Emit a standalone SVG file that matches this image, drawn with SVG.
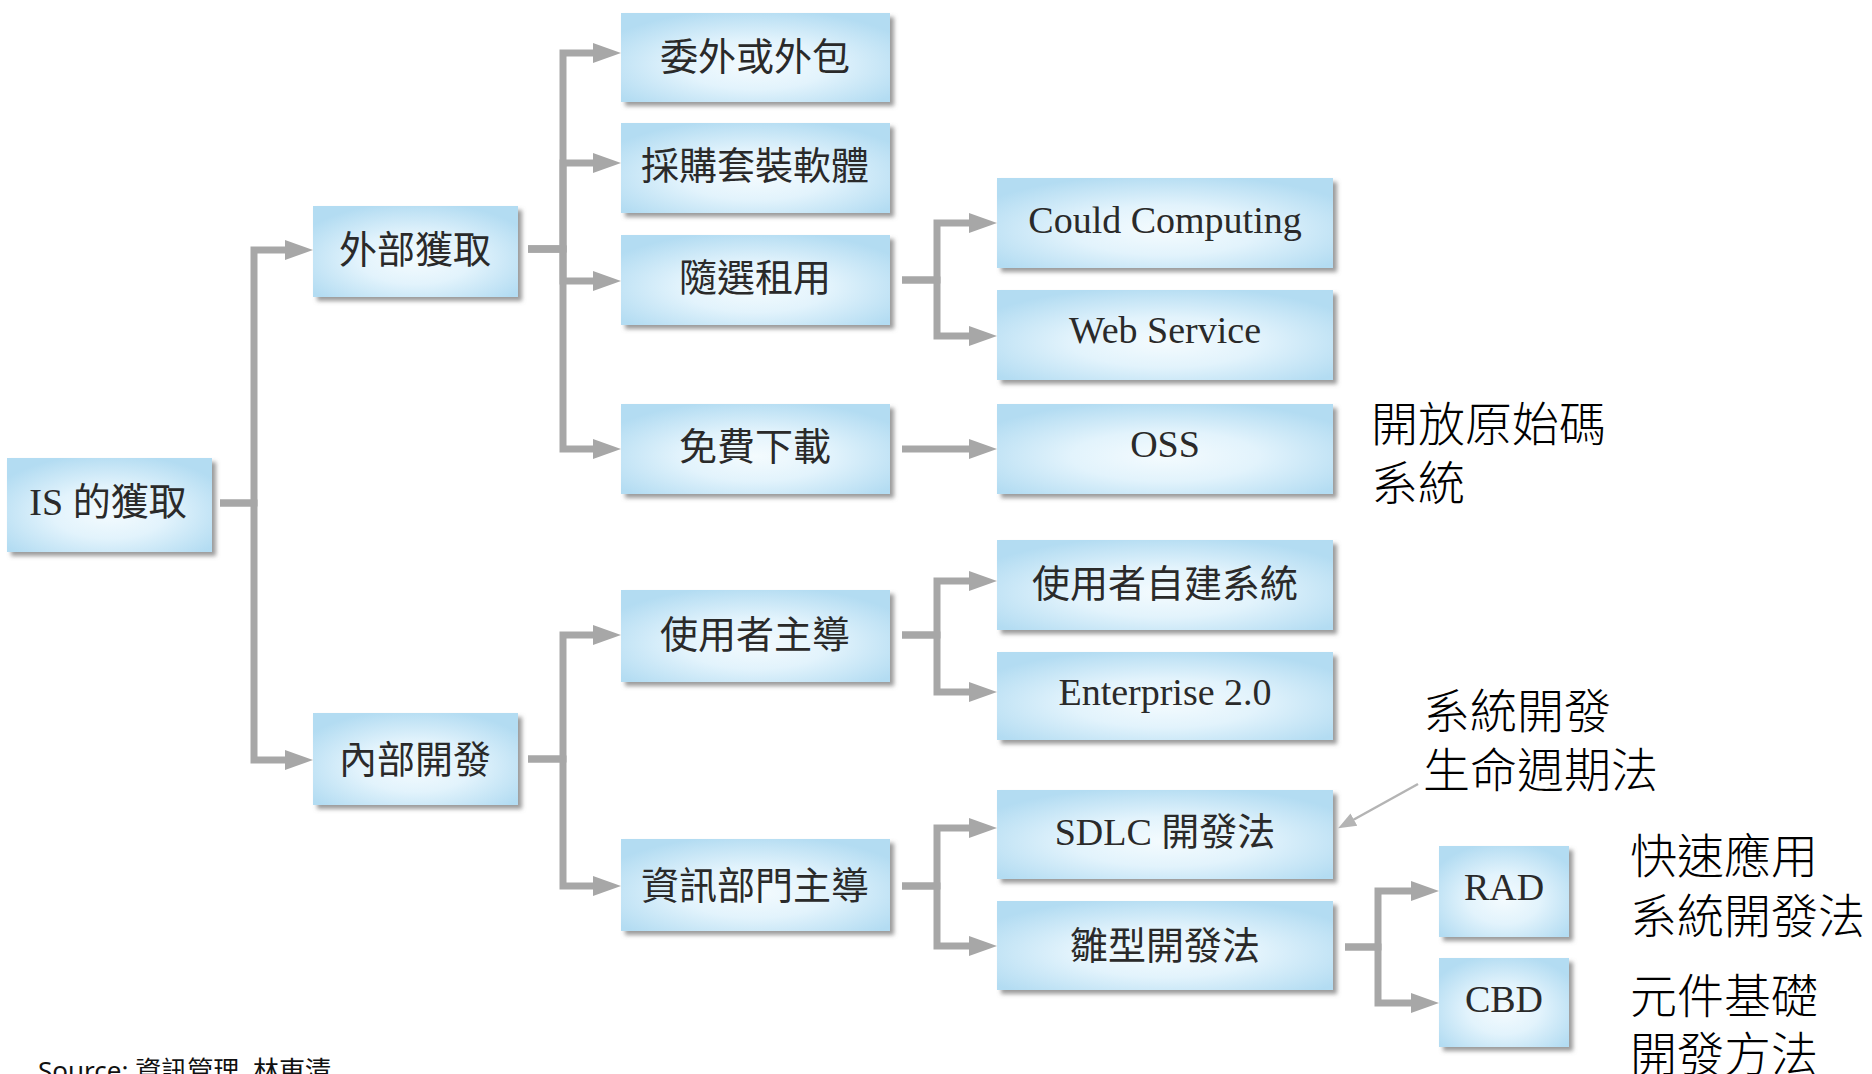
<svg xmlns="http://www.w3.org/2000/svg" width="1872" height="1074" viewBox="0 0 1872 1074">
  <defs>
    <style>
      .box { fill: url(#boxFill); filter: url(#boxShadow); }
      .lbl { font-family: "Liberation Serif", "Noto Sans CJK TC", serif; font-size: 38px; fill: #2a2a2a; text-anchor: middle; }
      .note { font-family: "Noto Sans CJK TC", "Noto Sans", sans-serif; font-size: 47px; font-weight: 300; fill: #000000; }
      .src { font-family: "Noto Sans", "Noto Sans CJK TC", sans-serif; font-size: 26px; fill: #111111; }
      .edge { fill: none; stroke: #a7a7a7; stroke-width: 7; stroke-linejoin: miter; stroke-linecap: butt; marker-end: url(#head); }
      .callout { fill: none; stroke: #b4b4b4; stroke-width: 2.5; marker-end: url(#smallHead); }
    </style>
    <radialGradient id="boxFill" cx="0.5" cy="0.58" r="0.62">
      <stop offset="0" stop-color="#f4fbfe"/>
      <stop offset="0.45" stop-color="#e2f3fc"/>
      <stop offset="1" stop-color="#b3dcf2"/>
    </radialGradient>
    <filter id="boxShadow" x="-5%" y="-10%" width="115%" height="130%">
      <feGaussianBlur in="SourceAlpha" stdDeviation="2"/>
      <feOffset dx="4" dy="4" result="off"/>
      <feFlood flood-color="#7a7a7a" flood-opacity="0.75"/>
      <feComposite in2="off" operator="in"/>
      <feMerge>
        <feMergeNode/>
        <feMergeNode in="SourceGraphic"/>
      </feMerge>
    </filter>
    <marker id="head" markerUnits="userSpaceOnUse" markerWidth="30" markerHeight="22" refX="1" refY="11" orient="auto">
      <path d="M0,1 L28,11 L0,21 z" fill="#a7a7a7"/>
    </marker>
    <marker id="smallHead" markerUnits="userSpaceOnUse" markerWidth="20" markerHeight="16" refX="1" refY="8" orient="auto">
      <path d="M0,1 L18,8 L0,15 z" fill="#b4b4b4"/>
    </marker>
  </defs>

  <rect width="1872" height="1074" fill="#ffffff"/>

  <!-- tree connectors -->
  <g id="connectors">
    <path class="edge" d="M220 503 H254 V250 H286"/>
    <path class="edge" d="M220 503 H254 V760 H286"/>

    <path class="edge" d="M528 249 H563 V53 H594"/>
    <path class="edge" d="M528 249 H563 V163 H594"/>
    <path class="edge" d="M528 249 H563 V281 H594"/>
    <path class="edge" d="M528 249 H563 V449 H594"/>

    <path class="edge" d="M902 280 H937 V223 H970"/>
    <path class="edge" d="M902 280 H937 V336 H970"/>
    <path class="edge" d="M902 449 H970"/>

    <path class="edge" d="M528 759 H563 V635 H594"/>
    <path class="edge" d="M528 759 H563 V886 H594"/>

    <path class="edge" d="M902 635 H937 V581 H970"/>
    <path class="edge" d="M902 635 H937 V692 H970"/>

    <path class="edge" d="M902 886 H937 V828 H970"/>
    <path class="edge" d="M902 886 H937 V946 H970"/>

    <path class="edge" d="M1345 947 H1378 V891 H1412"/>
    <path class="edge" d="M1345 947 H1378 V1003 H1412"/>

    <path class="callout" d="M1418 784 L1353 820"/>
  </g>

  <!-- root -->
  <g id="n-root">
    <rect class="box" x="7" y="458" width="205" height="94"/>
    <text class="lbl" x="108" y="515">IS 的獲取</text>
  </g>

  <!-- level 1 -->
  <g id="n-external">
    <rect class="box" x="313" y="206" width="205" height="91"/>
    <text class="lbl" x="415" y="263">外部獲取</text>
  </g>
  <g id="n-internal">
    <rect class="box" x="313" y="713" width="205" height="92"/>
    <text class="lbl" x="415" y="773">內部開發</text>
  </g>

  <!-- level 2 -->
  <g id="n-outsource">
    <rect class="box" x="621" y="13" width="269" height="89"/>
    <text class="lbl" x="755" y="70">委外或外包</text>
  </g>
  <g id="n-package">
    <rect class="box" x="621" y="123" width="269" height="90"/>
    <text class="lbl" x="755" y="179">採購套裝軟體</text>
  </g>
  <g id="n-ondemand">
    <rect class="box" x="621" y="235" width="269" height="90"/>
    <text class="lbl" x="755" y="291">隨選租用</text>
  </g>
  <g id="n-download">
    <rect class="box" x="621" y="404" width="269" height="90"/>
    <text class="lbl" x="755" y="460">免費下載</text>
  </g>
  <g id="n-userled">
    <rect class="box" x="621" y="590" width="269" height="92"/>
    <text class="lbl" x="755" y="648">使用者主導</text>
  </g>
  <g id="n-itled">
    <rect class="box" x="621" y="839" width="269" height="92"/>
    <text class="lbl" x="755" y="899">資訊部門主導</text>
  </g>

  <!-- level 3 -->
  <g id="n-cloud">
    <rect class="box" x="997" y="178" width="336" height="90"/>
    <text class="lbl" x="1165" y="233">Could Computing</text>
  </g>
  <g id="n-webservice">
    <rect class="box" x="997" y="290" width="336" height="90"/>
    <text class="lbl" x="1165" y="343">Web Service</text>
  </g>
  <g id="n-oss">
    <rect class="box" x="997" y="404" width="336" height="90"/>
    <text class="lbl" x="1165" y="457">OSS</text>
  </g>
  <g id="n-enduser">
    <rect class="box" x="997" y="540" width="336" height="90"/>
    <text class="lbl" x="1165" y="597">使用者自建系統</text>
  </g>
  <g id="n-enterprise">
    <rect class="box" x="997" y="652" width="336" height="88"/>
    <text class="lbl" x="1165" y="705">Enterprise 2.0</text>
  </g>
  <g id="n-sdlc">
    <rect class="box" x="997" y="790" width="336" height="89"/>
    <text class="lbl" x="1165" y="845">SDLC 開發法</text>
  </g>
  <g id="n-prototype">
    <rect class="box" x="997" y="901" width="336" height="89"/>
    <text class="lbl" x="1165" y="959">雛型開發法</text>
  </g>

  <!-- level 4 -->
  <g id="n-rad">
    <rect class="box" x="1439" y="846" width="130" height="91"/>
    <text class="lbl" x="1504" y="900">RAD</text>
  </g>
  <g id="n-cbd">
    <rect class="box" x="1439" y="958" width="130" height="89"/>
    <text class="lbl" x="1504" y="1012">CBD</text>
  </g>

  <!-- side notes -->
  <g id="notes">
    <text class="note" x="1371" y="441">開放原始碼</text>
    <text class="note" x="1371" y="500">系統</text>
    <text class="note" x="1423" y="728">系統開發</text>
    <text class="note" x="1423" y="787">生命週期法</text>
    <text class="note" x="1630" y="873">快速應用</text>
    <text class="note" x="1630" y="933">系統開發法</text>
    <text class="note" x="1630" y="1013">元件基礎</text>
    <text class="note" x="1630" y="1071">開發方法</text>
    <text class="src" x="38" y="1080">Source: 資訊管理, 林東清</text>
  </g>
</svg>
